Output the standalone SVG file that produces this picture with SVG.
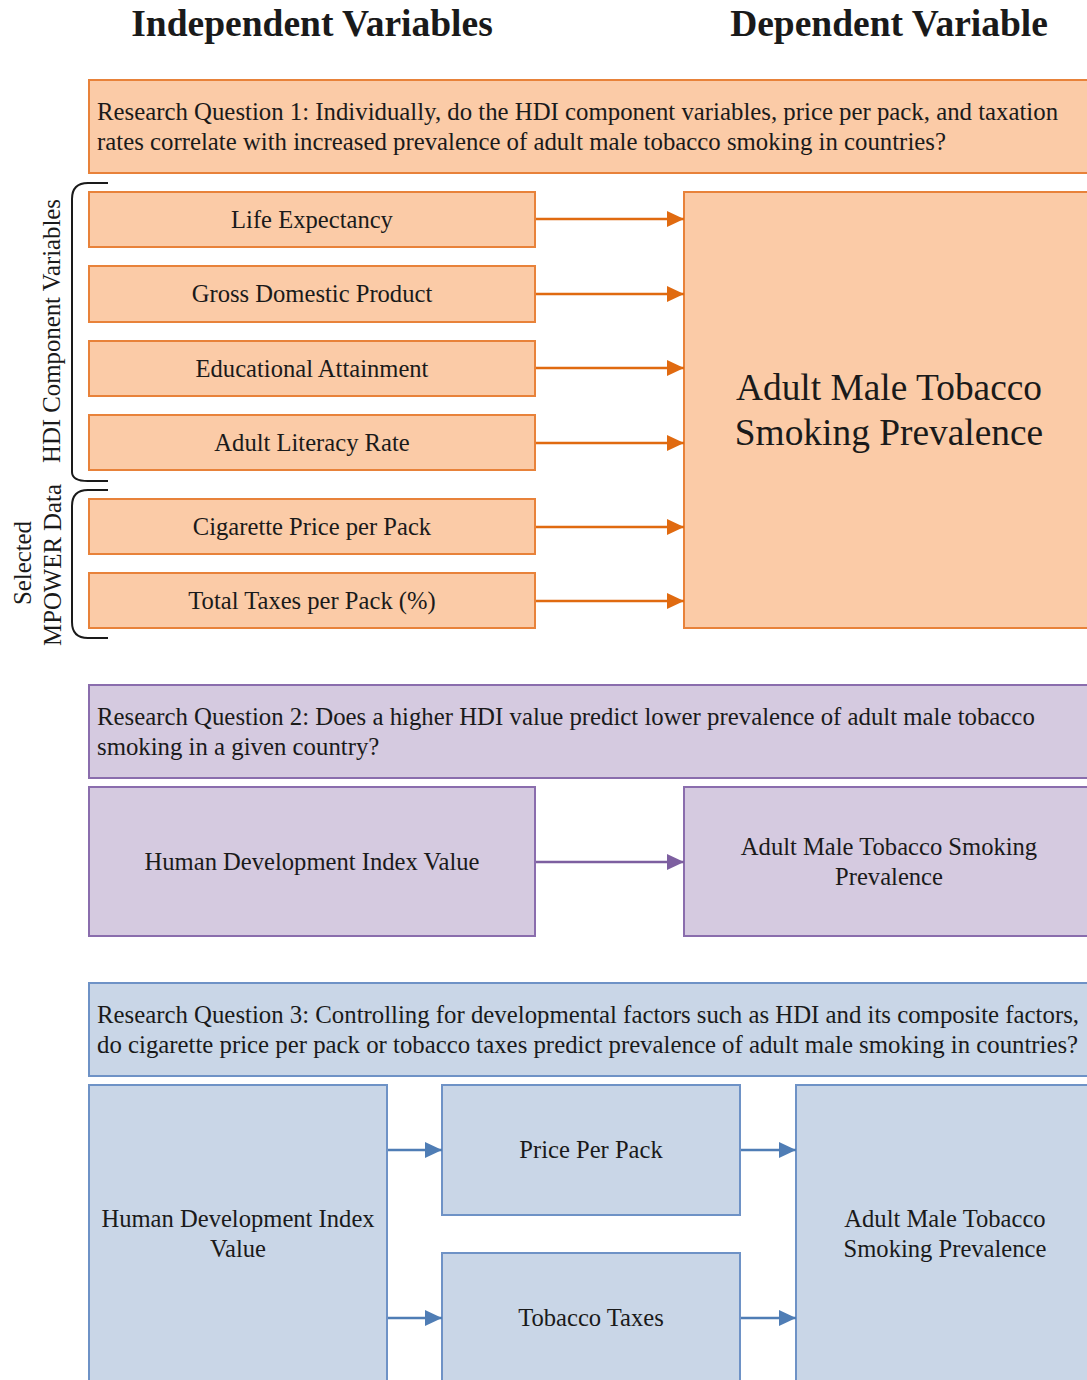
<svg xmlns="http://www.w3.org/2000/svg" width="1087" height="1380" viewBox="0 0 1087 1380">
<style>
text{font-family:"Liberation Serif","Times New Roman",serif;fill:#1a1a1a}
.h{font-size:37.5px;font-weight:bold;text-anchor:middle}
.q{font-size:24.8px}
.t{font-size:24.6px;text-anchor:middle}
.big{font-size:37.4px;text-anchor:middle}
.o{fill:#FBCBA7;stroke:#E8823A;stroke-width:2}
.p{fill:#D5CAE0;stroke:#8A6DAD;stroke-width:2}
.b{fill:#C9D6E7;stroke:#6E92C6;stroke-width:2}
.ao{stroke:#E06A10;stroke-width:2.5;fill:none}
.ap{stroke:#7D5FA0;stroke-width:2.5;fill:none}
.ab{stroke:#4F7DB5;stroke-width:2.5;fill:none}
.br{stroke:#1a1a1a;stroke-width:2;fill:none}
</style>
<defs>
<marker id="mo" markerWidth="17" markerHeight="16" refX="17" refY="8" orient="auto" markerUnits="userSpaceOnUse"><path d="M0,0 L17,8 L0,16 Z" fill="#E06A10"/></marker>
<marker id="mp" markerWidth="17" markerHeight="16" refX="17" refY="8" orient="auto" markerUnits="userSpaceOnUse"><path d="M0,0 L17,8 L0,16 Z" fill="#7D5FA0"/></marker>
<marker id="mb" markerWidth="17" markerHeight="16" refX="17" refY="8" orient="auto" markerUnits="userSpaceOnUse"><path d="M0,0 L17,8 L0,16 Z" fill="#4F7DB5"/></marker>
</defs>
<rect width="1087" height="1380" fill="#ffffff"/>
<text class="h" x="312" y="36">Independent Variables</text>
<text class="h" x="889" y="36">Dependent Variable</text>

<g id="rq1"><rect class="o" x="89" y="80" width="1010" height="93"/>
<text class="q" x="97" y="120">Research Question 1: Individually, do the HDI component variables, price per pack, and taxation</text>
<text class="q" x="97" y="150">rates correlate with increased prevalence of adult male tobacco smoking in countries?</text></g>

<g id="life"><rect class="o" x="89" y="192" width="446" height="55"/><text class="t" x="312" y="228">Life Expectancy</text></g>
<g id="gdp"><rect class="o" x="89" y="266" width="446" height="56"/><text class="t" x="312" y="302">Gross Domestic Product</text></g>
<g id="edu"><rect class="o" x="89" y="341" width="446" height="55"/><text class="t" x="312" y="377">Educational Attainment</text></g>
<g id="lit"><rect class="o" x="89" y="415" width="446" height="55"/><text class="t" x="312" y="451">Adult Literacy Rate</text></g>
<g id="price"><rect class="o" x="89" y="499" width="446" height="55"/><text class="t" x="312" y="535">Cigarette Price per Pack</text></g>
<g id="tax"><rect class="o" x="89" y="573" width="446" height="55"/><text class="t" x="312" y="609">Total Taxes per Pack (%)</text></g>
<g id="dv1"><rect class="o" x="684" y="192" width="415" height="436"/>
<text class="big" x="889" y="400">Adult Male Tobacco</text><text class="big" x="889" y="445">Smoking Prevalence</text></g>

<g id="brackets">
<path class="br" d="M108,183 L88,183 Q72,183 72,199 L72,472 Q72,481 88,481 L108,481"/>
<path class="br" d="M108,490 L88,490 Q72,490 72,506 L72,622 Q72,638 88,638 L108,638"/>
<text class="q" text-anchor="middle" transform="translate(60,331) rotate(-90)">HDI Component Variables</text>
<text class="q" text-anchor="middle" transform="translate(31,563) rotate(-90)">Selected</text>
<text class="q" text-anchor="middle" transform="translate(61,565) rotate(-90)">MPOWER Data</text>
</g>

<g id="rq2"><rect class="p" x="89" y="685" width="1010" height="93"/>
<text class="q" x="97" y="725">Research Question 2: Does a higher HDI value predict lower prevalence of adult male tobacco</text>
<text class="q" x="97" y="755">smoking in a given country?</text></g>
<g id="hdi2"><rect class="p" x="89" y="787" width="446" height="149"/><text class="t" x="312" y="870">Human Development Index Value</text></g>
<g id="dv2"><rect class="p" x="684" y="787" width="415" height="149"/>
<text class="t" x="889" y="855">Adult Male Tobacco Smoking</text><text class="t" x="889" y="885">Prevalence</text></g>

<g id="rq3"><rect class="b" x="89" y="983" width="1010" height="93"/>
<text class="q" x="97" y="1023">Research Question 3: Controlling for developmental factors such as HDI and its composite factors,</text>
<text class="q" x="97" y="1053">do cigarette price per pack or tobacco taxes predict prevalence of adult male smoking in countries?</text></g>
<g id="hdi3"><rect class="b" x="89" y="1085" width="298" height="310"/>
<text class="t" x="238" y="1227">Human Development Index</text><text class="t" x="238" y="1257">Value</text></g>
<g id="ppp"><rect class="b" x="442" y="1085" width="298" height="130"/><text class="t" x="591" y="1158">Price Per Pack</text></g>
<g id="ttx"><rect class="b" x="442" y="1253" width="298" height="140"/><text class="t" x="591" y="1326">Tobacco Taxes</text></g>
<g id="dv3"><rect class="b" x="796" y="1085" width="303" height="310"/>
<text class="t" x="945" y="1227">Adult Male Tobacco</text><text class="t" x="945" y="1257">Smoking Prevalence</text></g>

<g id="connectors">
<line class="ao" x1="536" y1="219" x2="684" y2="219" marker-end="url(#mo)"/>
<line class="ao" x1="536" y1="294" x2="684" y2="294" marker-end="url(#mo)"/>
<line class="ao" x1="536" y1="368" x2="684" y2="368" marker-end="url(#mo)"/>
<line class="ao" x1="536" y1="443" x2="684" y2="443" marker-end="url(#mo)"/>
<line class="ao" x1="536" y1="527" x2="684" y2="527" marker-end="url(#mo)"/>
<line class="ao" x1="536" y1="601" x2="684" y2="601" marker-end="url(#mo)"/>
<line class="ap" x1="536" y1="862" x2="684" y2="862" marker-end="url(#mp)"/>
<line class="ab" x1="388" y1="1150" x2="442" y2="1150" marker-end="url(#mb)"/>
<line class="ab" x1="388" y1="1318" x2="442" y2="1318" marker-end="url(#mb)"/>
<line class="ab" x1="741" y1="1150" x2="796" y2="1150" marker-end="url(#mb)"/>
<line class="ab" x1="741" y1="1318" x2="796" y2="1318" marker-end="url(#mb)"/>
</g>
</svg>
